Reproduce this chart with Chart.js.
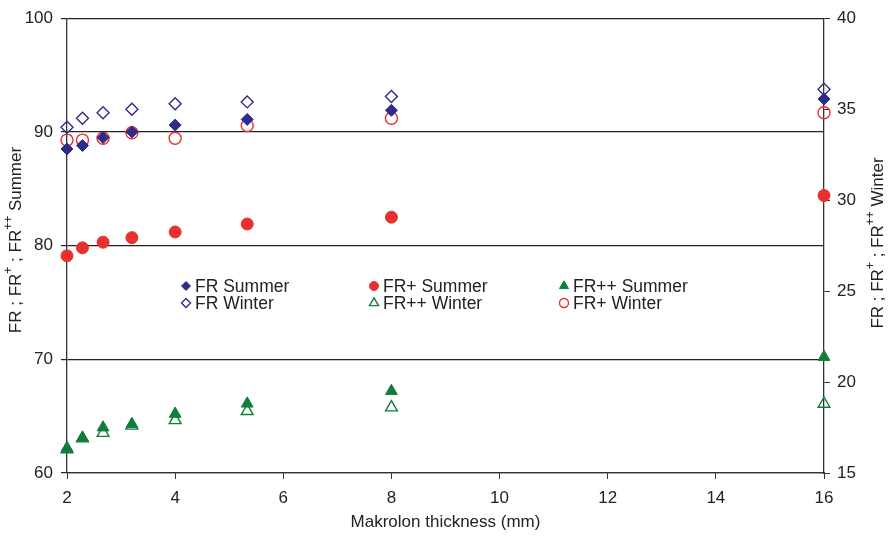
<!DOCTYPE html>
<html>
<head>
<meta charset="utf-8">
<script src="https://cdn.jsdelivr.net/npm/chart.js@4.4.1/dist/chart.umd.min.js"></script>
<style>
  html, body { margin: 0; padding: 0; background: #fff; }
</style>
</head>
<body>
<canvas id="chart1" width="889" height="536"></canvas>
<script>
// Makrolon thickness (mm)
const thickness = [2, 2.286, 2.667, 3.2, 4, 5.333, 8, 16];

// summer values - left axis
const frSummer = [88.5, 88.8, 89.5, 90.0, 90.6, 91.1, 91.9, 92.9];
const frPlusSummer = [79.1, 79.8, 80.3, 80.7, 81.2, 81.9, 82.5, 84.4];
const frPlusPlusSummer = [62.2, 63.1, 64.0, 64.3, 65.2, 66.1, 67.2, 70.2];

// winter values - right axis
const frWinter = [34.0, 34.5, 34.8, 35.0, 35.3, 35.4, 35.7, 36.1];
const frPlusWinter = [33.3, 33.3, 33.4, 33.7, 33.4, 34.1, 34.5, 34.8];
const frPlusPlusWinter = [16.3, 16.9, 17.2, 17.6, 17.9, 18.4, 18.6, 18.8];

const xTicks = [2, 4, 6, 8, 10, 12, 14, 16];
const leftTicks = [60, 70, 80, 90, 100];
const rightTicks = [15, 20, 25, 30, 35, 40];

const navy = '#2e2c8a';
const red = '#e8302e';
const green = '#0f7d3b';
const FONT = "'Liberation Sans', Arial, sans-serif";

function pts(ys) {
    return thickness.map((x, i) => ({ x: x, y: ys[i] }));
}

// legend laid out in 3 columns, 2 rows
const legendLayout = [
    { label: 'FR Summer', x: 186, y: 286 },
    { label: 'FR Winter', x: 186, y: 303 },
    { label: 'FR+ Summer', x: 374, y: 286 },
    { label: 'FR++ Winter', x: 374, y: 303 },
    { label: 'FR++ Summer', x: 564, y: 286 },
    { label: 'FR+ Winter', x: 564, y: 303 }
];

const legendPlugin = {
    id: 'gridLegend',
    afterDraw(chart) {
        const ctx = chart.ctx;
        ctx.save();
        ctx.font = '17.5px ' + FONT;
        ctx.textBaseline = 'middle';
        legendLayout.forEach(item => {
            const ds = chart.data.datasets.find(d => d.label === item.label);
            ctx.strokeStyle = ds.borderColor;
            ctx.fillStyle = ds.backgroundColor;
            ctx.lineWidth = ds.borderWidth;
            Chart.helpers.drawPoint(ctx, {
                pointStyle: ds.pointStyle,
                radius: ds.pointStyle === 'triangle' ? 5.2 : 4.5,
                rotation: 0,
                borderWidth: ds.borderWidth
            }, item.x, item.y);
            ctx.fillStyle = '#222';
            ctx.fillText(item.label, item.x + 9, item.y + 1);
        });
        ctx.restore();
    }
};

// rotated y titles with superscripts, both reading bottom to top
function drawTitle(ctx, cx, cy, last) {
    const parts = [
        ['FR ; FR', false], ['+', true], [' ; FR', false], ['++', true], [' ' + last, false]
    ];
    const big = '17px ' + FONT;
    const small = '12px ' + FONT;
    let total = 0;
    parts.forEach(p => {
        ctx.font = p[1] ? small : big;
        total += ctx.measureText(p[0]).width;
    });
    ctx.save();
    ctx.translate(cx, cy);
    ctx.rotate(-Math.PI / 2);
    ctx.fillStyle = '#222';
    ctx.textBaseline = 'middle';
    let x = -total / 2;
    parts.forEach(p => {
        ctx.font = p[1] ? small : big;
        ctx.fillText(p[0], x, p[1] ? -6 : 1);
        x += ctx.measureText(p[0]).width;
    });
    ctx.restore();
}

const titlePlugin = {
    id: 'yTitles',
    afterDraw(chart) {
        drawTitle(chart.ctx, 15, 240, 'Summer');
        drawTitle(chart.ctx, 877, 243, 'Winter');
    }
};

function set(ds) {
    return Object.assign({ showLine: false, clip: false }, ds);
}

let myChart1 = document.getElementById('chart1').getContext('2d');
let scatter1 = new Chart(myChart1, {
    type: 'scatter',
    data: {
        datasets: [
            set({
                label: 'FR Summer', data: pts(frSummer), yAxisID: 'y',
                pointStyle: 'rectRot', pointRadius: 6, borderWidth: 1,
                backgroundColor: navy, borderColor: navy
            }),
            set({
                label: 'FR+ Summer', data: pts(frPlusSummer), yAxisID: 'y',
                pointStyle: 'circle', pointRadius: 6, borderWidth: 1,
                backgroundColor: red, borderColor: red
            }),
            set({
                label: 'FR++ Summer', data: pts(frPlusPlusSummer), yAxisID: 'y',
                pointStyle: 'triangle', pointRadius: 6.8, borderWidth: 1,
                backgroundColor: green, borderColor: green
            }),
            set({
                label: 'FR Winter', data: pts(frWinter), yAxisID: 'y1',
                pointStyle: 'rectRot', pointRadius: 6, borderWidth: 1.4,
                backgroundColor: 'rgba(255,255,255,0)', borderColor: navy
            }),
            set({
                label: 'FR++ Winter', data: pts(frPlusPlusWinter), yAxisID: 'y1',
                pointStyle: 'triangle', pointRadius: 6.8, borderWidth: 1.4,
                backgroundColor: 'rgba(255,255,255,0)', borderColor: green
            }),
            set({
                label: 'FR+ Winter', data: pts(frPlusWinter), yAxisID: 'y1',
                pointStyle: 'circle', pointRadius: 6, borderWidth: 1.4,
                backgroundColor: 'rgba(255,255,255,0)', borderColor: red
            })
        ]
    },
    options: {
        responsive: false,
        animation: false,
        events: [],
        devicePixelRatio: 1,
        layout: { padding: { top: 16, left: 0, right: 0, bottom: 0 } },
        plugins: {
            legend: { display: false },
            tooltip: { enabled: false }
        },
        scales: {
            x: {
                type: 'linear',
                min: 2,
                max: 16,
                afterBuildTicks: s => { s.ticks = xTicks.map(v => ({ value: v })); },
                afterFit: s => { s.height = 63; },
                ticks: { color: '#222', padding: 9, font: { family: FONT, size: 17 } },
                grid: { drawOnChartArea: false, color: '#333', tickLength: 6 },
                border: { color: '#333', width: 1.3 },
                title: {
                    display: true,
                    text: 'Makrolon thickness (mm)',
                    color: '#222',
                    padding: { top: 0, bottom: 3 },
                    font: { family: FONT, size: 17 }
                }
            },
            y: {
                position: 'left',
                min: 60,
                max: 100,
                afterBuildTicks: s => { s.ticks = leftTicks.map(v => ({ value: v })); },
                afterFit: s => { s.width = 67; },
                ticks: { color: '#222', padding: 8, font: { family: FONT, size: 17 } },
                grid: { color: '#222', lineWidth: 1.2, tickLength: 6 },
                border: { color: '#333', width: 1.3 }
            },
            y1: {
                position: 'right',
                min: 15,
                max: 40,
                afterBuildTicks: s => { s.ticks = rightTicks.map(v => ({ value: v })); },
                afterFit: s => { s.width = 65; },
                ticks: { color: '#222', padding: 7, font: { family: FONT, size: 17 } },
                grid: { drawOnChartArea: false, color: '#333', tickLength: 6 },
                border: { color: '#333', width: 1.3 }
            }
        }
    },
    plugins: [legendPlugin, titlePlugin]
});
</script>
</body>
</html>
